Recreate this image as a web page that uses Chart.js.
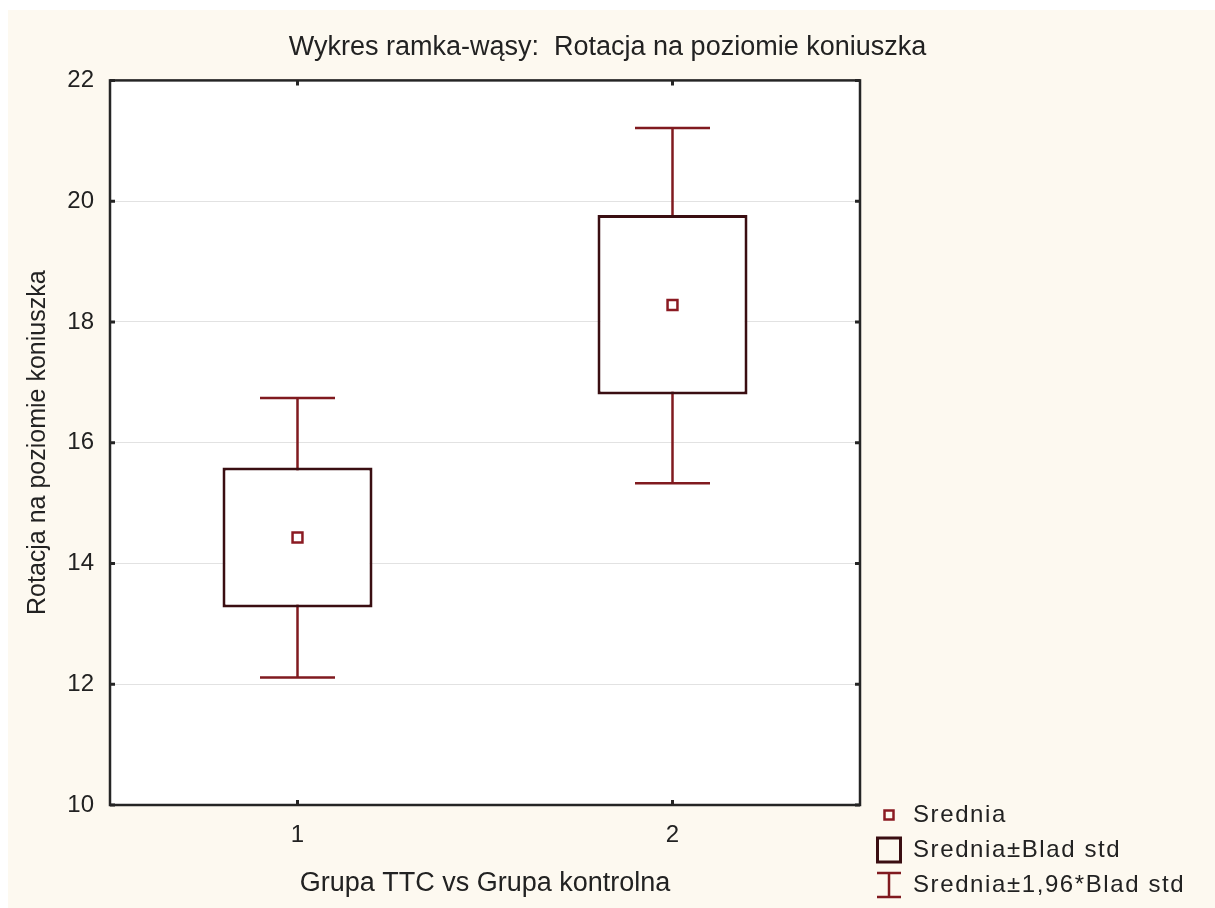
<!DOCTYPE html>
<html>
<head>
<meta charset="utf-8">
<script src="https://cdn.jsdelivr.net/npm/chart.js@4.4.1/dist/chart.umd.min.js"></script>
<style>
  body { margin: 0; background: #fff; }
</style>
</head>
<body>
<canvas id="boxCanvas" width="1215" height="908"></canvas>
<script>
const groups = ["1", "2"];
const means = [14.43, 18.28];
const seLow = [13.27, 16.80];
const seHigh = [15.59, 19.77];
const ciLow = [12.11, 15.33];
const ciHigh = [16.74, 21.21];
const legendLabels = ["Srednia", "Srednia\u00b1Blad std", "Srednia\u00b11,96*Blad std"];

const FONT = "'Liberation Sans', Arial, sans-serif";
const TEXT = "#222222";
const BOX_COLOR = "#3a0e12";
const WHISKER_COLOR = "#801a1f";
const MEAN_COLOR = "#8b1a22";
const CREAM = "#fdf9f0";

// whisker segments: vertical line + two caps per group
const whiskerPoints = [];
groups.forEach((g, i) => {
  const x = i + 1;
  whiskerPoints.push({ x: x, y: ciLow[i] }, { x: x, y: ciHigh[i] }, { x: x, y: null });
  whiskerPoints.push({ x: x - 0.1, y: ciHigh[i] }, { x: x + 0.1, y: ciHigh[i] }, { x: x, y: null });
  whiskerPoints.push({ x: x - 0.1, y: ciLow[i] }, { x: x + 0.1, y: ciLow[i] }, { x: x, y: null });
});

const framePlugin = {
  id: "frame",
  beforeDraw(chart) {
    const { ctx, chartArea: a, width, height } = chart;
    ctx.save();
    ctx.fillStyle = "#ffffff";
    ctx.fillRect(0, 0, width, height);
    ctx.fillStyle = CREAM;
    ctx.fillRect(8, 10, width - 8, height - 10);
    ctx.fillStyle = "#ffffff";
    ctx.fillRect(a.left, a.top, a.right - a.left, a.bottom - a.top);
    ctx.restore();
  },
  afterDraw(chart) {
    const { ctx, chartArea: a } = chart;
    const xs = chart.scales.x, ys = chart.scales.y;
    ctx.save();
    ctx.strokeStyle = "#252525";
    ctx.lineWidth = 2.5;
    ctx.strokeRect(a.left, a.top, a.right - a.left, a.bottom - a.top);
    ctx.lineWidth = 3;
    xs.ticks.forEach((t, i) => {
      const px = xs.getPixelForTick(i);
      ctx.beginPath();
      ctx.moveTo(px, a.top); ctx.lineTo(px, a.top + 5);
      ctx.moveTo(px, a.bottom); ctx.lineTo(px, a.bottom - 5);
      ctx.stroke();
    });
    ys.ticks.forEach((t, i) => {
      const py = ys.getPixelForTick(i);
      ctx.beginPath();
      ctx.moveTo(a.left, py); ctx.lineTo(a.left + 5, py);
      ctx.moveTo(a.right, py); ctx.lineTo(a.right - 5, py);
      ctx.stroke();
    });

    // legend
    const lx = 889, ly = [815, 850, 885];
    ctx.strokeStyle = MEAN_COLOR;
    ctx.lineWidth = 2.5;
    ctx.strokeRect(lx - 4.5, ly[0] - 4.5, 9, 9);
    ctx.strokeStyle = BOX_COLOR;
    ctx.lineWidth = 3;
    ctx.strokeRect(lx - 11.5, ly[1] - 12, 23, 24);
    ctx.strokeStyle = WHISKER_COLOR;
    ctx.lineWidth = 2.5;
    ctx.beginPath();
    ctx.moveTo(lx, ly[2] - 12); ctx.lineTo(lx, ly[2] + 12);
    ctx.moveTo(lx - 12, ly[2] - 12); ctx.lineTo(lx + 12, ly[2] - 12);
    ctx.moveTo(lx - 12, ly[2] + 12); ctx.lineTo(lx + 12, ly[2] + 12);
    ctx.stroke();
    ctx.fillStyle = TEXT;
    ctx.font = "24px " + FONT;
    ctx.letterSpacing = "1.6px";
    ctx.textBaseline = "middle";
    ctx.textAlign = "left";
    legendLabels.forEach((l, i) => ctx.fillText(l, 913, ly[i]));
    ctx.restore();
  }
};

const ctx = document.getElementById("boxCanvas").getContext("2d");
new Chart(ctx, {
  type: "bar",
  data: {
    labels: groups,
    datasets: [
      {
        type: "line",
        label: legendLabels[0],
        xAxisID: "xw",
        data: means.map((m, i) => ({ x: i + 1, y: m })),
        showLine: false,
        pointStyle: "rect",
        pointRadius: 7,
        pointBorderWidth: 2.5,
        pointBackgroundColor: "#ffffff",
        pointBorderColor: MEAN_COLOR,
        order: 0
      },
      {
        type: "bar",
        label: legendLabels[1],
        xAxisID: "x",
        data: groups.map((g, i) => [seLow[i], seHigh[i]]),
        backgroundColor: "#ffffff",
        borderColor: BOX_COLOR,
        borderWidth: 3,
        borderSkipped: false,
        grouped: false,
        barPercentage: 0.4,
        categoryPercentage: 1,
        order: 1
      },
      {
        type: "line",
        label: legendLabels[2],
        xAxisID: "xw",
        data: whiskerPoints,
        borderColor: WHISKER_COLOR,
        borderWidth: 2.5,
        pointRadius: 0,
        spanGaps: false,
        tension: 0,
        order: 2
      }
    ]
  },
  options: {
    responsive: false,
    animation: false,
    layout: { padding: { left: 0, right: 0, top: 0, bottom: 0 } },
    plugins: {
      legend: { display: false },
      tooltip: { enabled: false },
      title: {
        display: true,
        text: "Wykres ramka-wąsy:  Rotacja na poziomie koniuszka",
        color: TEXT,
        font: { family: FONT, size: 27, weight: "normal" },
        padding: { top: 31, bottom: 17 }
      }
    },
    scales: {
      x: {
        type: "category",
        position: "bottom",
        offset: true,
        grid: { display: false, drawTicks: false },
        border: { display: false },
        ticks: { color: TEXT, font: { family: FONT, size: 24 }, padding: 16 },
        title: {
          display: true,
          text: "Grupa TTC vs Grupa kontrolna",
          color: TEXT,
          font: { family: FONT, size: 27 },
          padding: { top: 0, bottom: 8 }
        },
        afterFit(s) { s.height = 103; }
      },
      xw: {
        type: "linear",
        position: "bottom",
        display: false,
        offset: false,
        grid: { offset: false },
        min: 0.5,
        max: 2.5
      },
      y: {
        type: "linear",
        position: "left",
        min: 10,
        max: 22,
        ticks: { stepSize: 2, color: TEXT, font: { family: FONT, size: 24 }, padding: 16 },
        grid: { color: "#e2e2e2", lineWidth: 1, drawTicks: false },
        border: { display: false },
        title: {
          display: true,
          text: "Rotacja na poziomie koniuszka",
          color: TEXT,
          font: { family: FONT, size: 25 },
          padding: { top: 23, bottom: 0 }
        },
        afterFit(s) { s.width = 110; }
      },
      yr: {
        type: "linear",
        position: "right",
        display: true,
        grid: { display: false, drawTicks: false },
        border: { display: false },
        ticks: { display: false },
        afterFit(s) { s.width = 355; }
      }
    }
  },
  plugins: [framePlugin]
});
</script>
</body>
</html>
